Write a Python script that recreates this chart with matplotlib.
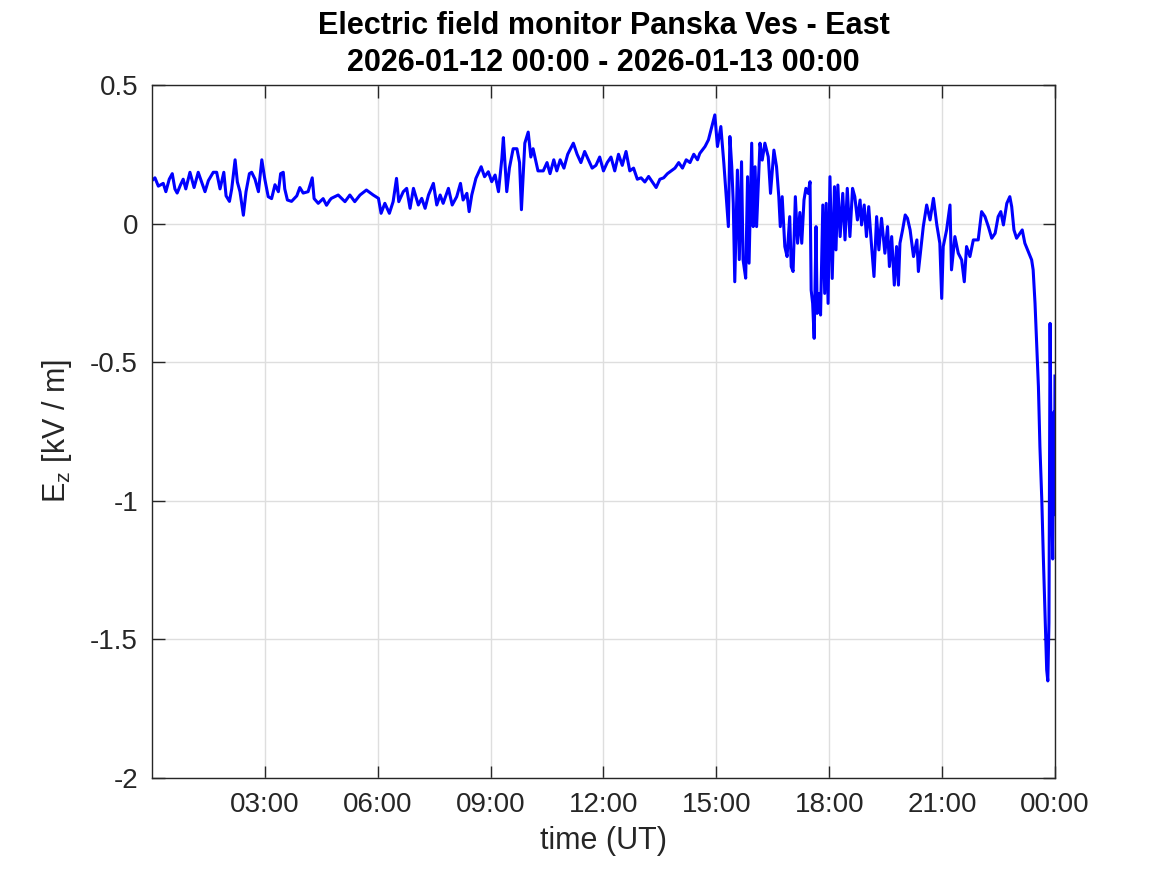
import matplotlib
matplotlib.use('Agg')
import matplotlib.pyplot as plt
import numpy as np

plt.rcParams['font.family'] = ['Liberation Sans', 'DejaVu Sans']

# time in hours since 2026-01-12 00:00 UT
godziny = np.array([
    0.00, 0.08, 0.17, 0.30, 0.37, 0.46, 0.54, 0.61, 0.67, 0.76, 0.83, 0.90,
    1.01, 1.12, 1.23, 1.32, 1.41, 1.50, 1.63, 1.72, 1.81, 1.91, 1.97, 2.06,
    2.12, 2.21, 2.27, 2.34, 2.43, 2.50, 2.59, 2.65, 2.74, 2.83, 2.92, 3.00,
    3.09, 3.18, 3.27, 3.36, 3.42, 3.49, 3.53, 3.60, 3.71, 3.85, 3.93, 4.02,
    4.15, 4.26, 4.31, 4.42, 4.55, 4.64, 4.73,
    4.77, 4.95, 5.13, 5.26, 5.39, 5.53, 5.70, 5.88, 6.02, 6.09, 6.19, 6.31,
    6.41, 6.50, 6.56, 6.68, 6.77, 6.86, 6.95, 7.08, 7.17, 7.26, 7.35, 7.48,
    7.57, 7.66, 7.74, 7.88, 7.98, 8.10, 8.20, 8.27, 8.37, 8.43, 8.50, 8.61,
    8.75, 8.84, 8.94, 9.03, 9.12, 9.21, 9.30,
    9.34, 9.43, 9.50, 9.60, 9.70, 9.77, 9.82, 9.91, 10.00, 10.07, 10.13,
    10.26, 10.40, 10.50, 10.58, 10.68, 10.76, 10.85, 10.95, 11.05, 11.20,
    11.30, 11.40, 11.50, 11.60, 11.70, 11.80, 11.90, 12.00, 12.10, 12.20,
    12.30, 12.40, 12.50, 12.60, 12.70, 12.80, 12.90, 13.00, 13.10, 13.20,
    13.30, 13.40, 13.50, 13.60, 13.70, 13.80, 13.90, 14.00, 14.10, 14.20,
    14.30, 14.40, 14.50,
    14.56, 14.70, 14.79, 14.88, 14.96, 15.03, 15.12, 15.20, 15.27, 15.32,
    15.36, 15.41, 15.45, 15.49, 15.56, 15.61, 15.67, 15.71, 15.78, 15.83,
    15.87, 15.94, 15.98, 16.03, 16.07, 16.16, 16.22, 16.29, 16.38, 16.44,
    16.53, 16.60, 16.66, 16.70, 16.75, 16.82, 16.88, 16.95, 16.99, 17.04,
    17.10, 17.16,
    17.22, 17.27, 17.33, 17.38, 17.44, 17.49, 17.52, 17.56, 17.60, 17.65,
    17.68, 17.73, 17.77, 17.83, 17.88, 17.92, 17.97, 18.02, 18.08, 18.14,
    18.18, 18.23, 18.29, 18.36, 18.42, 18.48, 18.55, 18.62, 18.68, 18.75,
    18.82, 18.86, 18.93, 18.99, 19.05, 19.12, 19.19, 19.26, 19.32, 19.39,
    19.48, 19.55, 19.60, 19.66, 19.73, 19.79, 19.84, 19.88, 19.95, 20.02,
    20.08, 20.15, 20.24, 20.33, 20.37,
    20.50, 20.59, 20.68, 20.77, 20.86, 20.94, 20.99, 21.03, 21.12, 21.21,
    21.25, 21.34, 21.43, 21.52, 21.59, 21.65, 21.74, 21.83, 21.96, 22.05,
    22.14, 22.23, 22.32, 22.41, 22.49, 22.56, 22.63, 22.72, 22.80,
    22.85, 22.91, 22.98, 23.07, 23.13, 23.20, 23.29, 23.38, 23.42, 23.47,
    23.51, 23.56, 23.60, 23.65, 23.69, 23.74, 23.78, 23.81, 23.84, 23.87,
    23.90, 23.94, 23.97, 23.99, 24.00,
])

# vertical electric field, kV/m
ez = np.array([
    0.155, 0.165, 0.135, 0.145, 0.115, 0.16, 0.18, 0.125, 0.11, 0.14, 0.16, 0.125,
    0.185, 0.13, 0.185, 0.15, 0.115, 0.155, 0.185, 0.185, 0.125, 0.185, 0.10, 0.08,
    0.125, 0.23, 0.15, 0.115, 0.03, 0.115, 0.18, 0.185, 0.16, 0.115, 0.23, 0.16,
    0.097, 0.09, 0.14, 0.115, 0.18, 0.185, 0.125, 0.085, 0.08, 0.10, 0.13, 0.11,
    0.115, 0.165, 0.09, 0.073, 0.09, 0.066, 0.085,
    0.091, 0.103, 0.079, 0.103, 0.079, 0.103, 0.121, 0.103, 0.091, 0.037, 0.073, 0.037,
    0.079, 0.163, 0.079, 0.115, 0.127, 0.055, 0.127, 0.067, 0.091, 0.055, 0.103, 0.145,
    0.067, 0.103, 0.073, 0.127, 0.067, 0.097, 0.145, 0.085, 0.109, 0.043, 0.103, 0.163,
    0.205, 0.169, 0.187, 0.151, 0.175, 0.115, 0.235,
    0.31, 0.115, 0.20, 0.27, 0.27, 0.22, 0.05, 0.29, 0.33, 0.24, 0.27,
    0.19, 0.19, 0.22, 0.18, 0.23, 0.19, 0.23, 0.20, 0.25, 0.29,
    0.25, 0.22, 0.26, 0.23, 0.20, 0.21, 0.24, 0.19, 0.22, 0.24,
    0.19, 0.25, 0.21, 0.26, 0.19, 0.20, 0.16, 0.165, 0.15, 0.17,
    0.15, 0.13, 0.16, 0.165, 0.18, 0.19, 0.20, 0.22, 0.20, 0.23,
    0.22, 0.25, 0.23,
    0.253, 0.278, 0.302, 0.35, 0.392, 0.278, 0.35, 0.217, 0.085, -0.011,
    0.314, 0.205, 0.073, -0.21, 0.193, -0.13, 0.223, -0.13, -0.197, 0.169,
    -0.143, 0.29, -0.011, 0.205, -0.011, 0.29, 0.229, 0.29, 0.241, 0.109,
    0.265, 0.205, 0.097, -0.011, 0.097, -0.083, -0.119, 0.025, -0.155, -0.173,
    0.097, -0.071,
    0.04, -0.071, 0.085, 0.127, 0.109, 0.151, -0.24, -0.288, -0.414, -0.011,
    -0.324, -0.252, -0.33, 0.067, -0.252, 0.073, -0.288, 0.169, -0.198, 0.133,
    -0.095, 0.139, -0.047, 0.109, -0.059, 0.127, -0.047, 0.127, 0.097, 0.013,
    0.085, -0.005, 0.067, -0.047, 0.061, -0.071, -0.191, 0.025, -0.095, 0.019,
    -0.107, -0.011, -0.155, -0.047, -0.222, -0.083, -0.222, -0.071, -0.023, 0.031,
    0.019, -0.023, -0.119, -0.059, -0.173,
    -0.011, 0.067, 0.013, 0.091, -0.005, -0.071, -0.27, -0.083, -0.023, 0.067,
    -0.167, -0.047, -0.107, -0.131, -0.21, -0.083, -0.119, -0.059, -0.059, 0.043,
    0.025, -0.011, -0.053, -0.035, 0.025, 0.043, -0.005, 0.073, 0.097,
    0.061, -0.023, -0.053, -0.035, -0.023, -0.071, -0.101, -0.131, -0.167, -0.288,
    -0.42, -0.588, -0.805, -0.997, -1.20, -1.43, -1.61, -1.65, -1.44, -0.36,
    -0.865, -1.21, -0.68, -1.05, -0.55,
])

xticki = [3, 6, 9, 12, 15, 18, 21, 24]
xetykiety = ['03:00', '06:00', '09:00', '12:00', '15:00', '18:00', '21:00', '00:00']
yticki = [-2, -1.5, -1, -0.5, 0, 0.5]
yetykiety = ['-2', '-1.5', '-1', '-0.5', '0', '0.5']

fig = plt.figure(figsize=(11.67, 8.75), dpi=100)
ax = fig.add_axes([0.1302, 0.1109, 0.7738, 0.792])

ax.plot(godziny, ez, color='#0000ff', linewidth=2.2)

ax.set_xlim(0, 24)
ax.set_ylim(-2, 0.5)
ax.set_xticks(xticki)
ax.set_xticklabels(xetykiety)
ax.set_yticks(yticki)
ax.set_yticklabels(yetykiety)

ax.grid(True, color='#dedede', linewidth=1.0)
ax.set_axisbelow(True)
for s in ax.spines.values():
    s.set_color('#262626')
    s.set_linewidth(1.0)
ax.tick_params(direction='in', length=9, width=1.0, colors='#262626',
               labelsize=20, top=True, right=True, pad=10)

ax.set_xlabel('time (UT)', fontsize=22, color='#262626', labelpad=6)
ax.set_ylabel(r'$\mathregular{E_z}$ [kV / m]', fontsize=22, color='#262626', labelpad=12)
ax.set_title('Electric field monitor Panska Ves - East\n2026-01-12 00:00 - 2026-01-13 00:00',
             fontsize=22, fontweight='bold', linespacing=1.3, pad=10)

fig.savefig('out.png', dpi=100)
